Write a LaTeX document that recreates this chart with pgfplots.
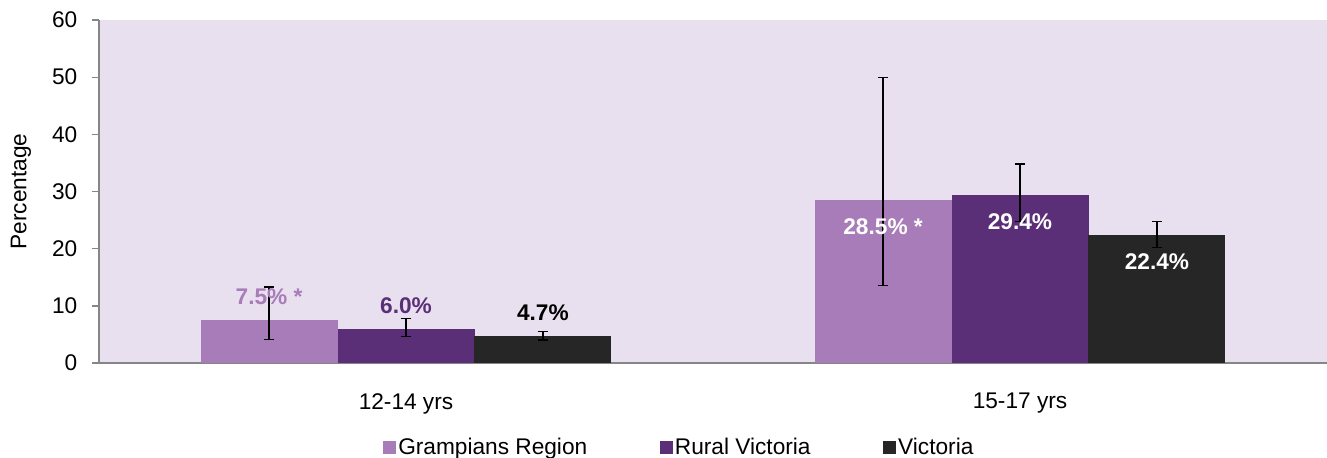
\documentclass[border=0pt]{standalone}
\usepackage{fontspec}
\setmainfont{Liberation Sans}
\usepackage{pgfplots}
\usepackage{pgfplotstable}
\pgfplotsset{compat=1.18}
\definecolor{gramc}{HTML}{A87CB8}
\definecolor{ruralc}{HTML}{5B2E78}
\definecolor{vicc}{HTML}{262626}
\definecolor{bgc}{HTML}{E8E0EF}
\definecolor{axisgray}{HTML}{868686}
\newcommand{\cf}{\fontsize{17}{20}\selectfont}

% x  value  error+  error-
\pgfplotstableread{
x y ep em
0 7.5 5.8 3.4
1 28.5 21.5 14.9
}\gram
\pgfplotstableread{
x y ep em
0 6.0 1.8 1.4
1 29.4 5.4 4.7
}\rural
\pgfplotstableread{
x y ep em
0 4.7 0.8 0.7
1 22.4 2.4 2.2
}\vic

\pgfplotsset{
  mybar/.style={ybar, bar width=102.75pt, bar shift=0pt, draw=none,
    error bars/.cd, y dir=both, y explicit,
    error bar style={line width=1pt, black},
    error mark options={rotate=90, mark size=4pt, line width=1pt, black},
    /pgfplots/.cd,
    legend image code/.code={\fill[##1] (0pt,-4.875pt) rectangle (9.75pt,4.875pt);}},
  above/.style={nodes near coords={\pgfmathprintnumber[fixed,fixed zerofill,precision=1,assume math mode=true]{\pgfplotspointmeta}\%#1},
    every node near coord/.append style={anchor=center, yshift=17.25pt, font=\cf\bfseries}},
  inside/.style={nodes near coords={\pgfmathprintnumber[fixed,fixed zerofill,precision=1,assume math mode=true]{\pgfplotspointmeta}\%#1},
    every node near coord/.append style={anchor=center, yshift=-20.25pt, text=white, font=\cf\bfseries}},
}

\begin{document}
\begin{tikzpicture}
\begin{axis}[
  scale only axis, width=921pt, height=257.25pt,
  xmin=-0.5, xmax=1.5, ymin=0, ymax=60,
  xtick={0,1}, xticklabels={12-14 yrs,15-17 yrs},
  x tick style={draw=none},
  ytick={0,10,...,60},
  axis lines*=left,
  axis line style={draw=axisgray, line width=1pt},
  y tick style={draw=axisgray, line width=1pt},
  tick align=outside, major tick length=5.25pt,
  axis background/.style={fill=bgc},
  /pgf/number format/assume math mode=true,
  tick label style={font=\cf},
  yticklabel style={xshift=-7.5pt},
  xticklabel style={yshift=-14pt},
  ylabel={Percentage},
  ylabel style={font=\cf, at={(axis description cs:-0.0635,0.5)}, anchor=center},
  point meta=y,
  legend style={draw=none, fill=none, inner sep=0pt, at={(0.2313,-0.2449)}, anchor=west,
    font=\cf, nodes={inner xsep=1.5pt, inner ysep=0pt},
    /tikz/every even column/.append style={column sep=53pt}},
  legend columns=3,
]
\addplot[mybar, fill=gramc, above={~*},
  every node near coord/.append style={text=gramc}]
  table[x expr=\thisrow{x}-0.223, y=y, y error plus=ep, y error minus=em, skip coords between index={1}{2}] {\gram};
\addlegendentry{Grampians Region}
\addplot[mybar, fill=ruralc, above={},
  every node near coord/.append style={text=ruralc}]
  table[x=x, y=y, y error plus=ep, y error minus=em, skip coords between index={1}{2}] {\rural};
\addlegendentry{Rural Victoria}
\addplot[mybar, fill=vicc, above={},
  every node near coord/.append style={text=black}]
  table[x expr=\thisrow{x}+0.223, y=y, y error plus=ep, y error minus=em, skip coords between index={1}{2}] {\vic};
\addlegendentry{Victoria}
\addplot[mybar, fill=gramc, inside={~*}, forget plot]
  table[x expr=\thisrow{x}-0.223, y=y, y error plus=ep, y error minus=em, skip coords between index={0}{1}] {\gram};
\addplot[mybar, fill=ruralc, inside={}, forget plot]
  table[x=x, y=y, y error plus=ep, y error minus=em, skip coords between index={0}{1}] {\rural};
\addplot[mybar, fill=vicc, inside={}, forget plot]
  table[x expr=\thisrow{x}+0.223, y=y, y error plus=ep, y error minus=em, skip coords between index={0}{1}] {\vic};
\end{axis}
\pgfresetboundingbox
\useasboundingbox (current axis.south west) ++(-74.25pt,-70.5pt) rectangle ++(995.25pt,342.75pt);
\end{tikzpicture}
\end{document}
